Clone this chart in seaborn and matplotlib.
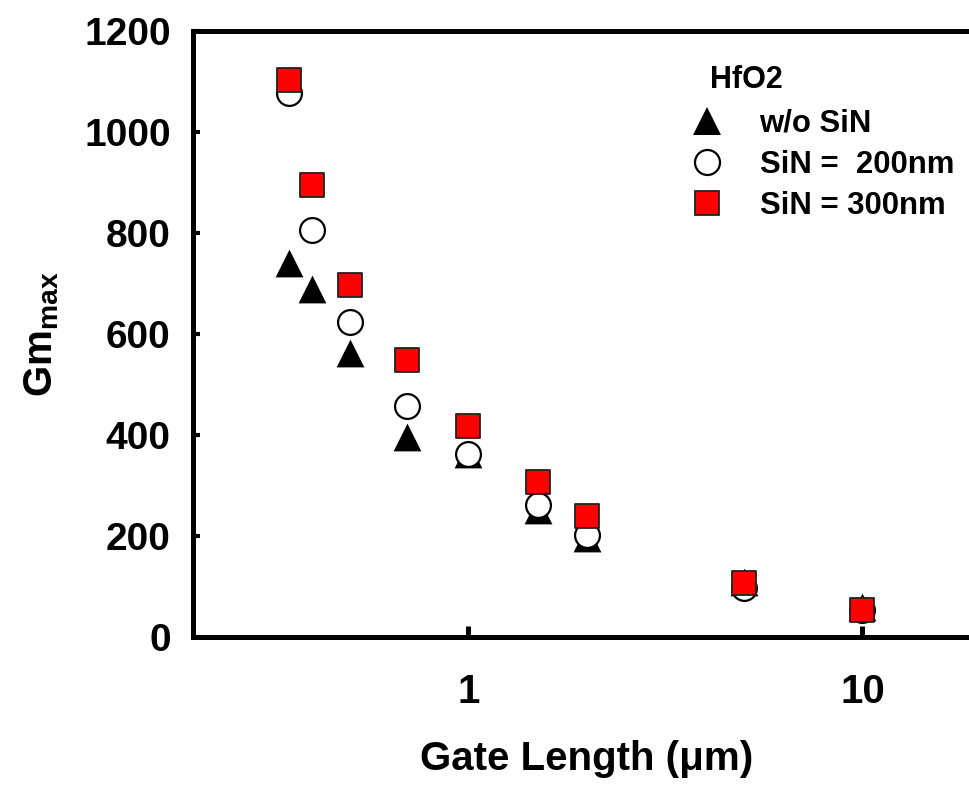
import matplotlib
matplotlib.use("Agg")
import matplotlib.pyplot as plt
import seaborn as sns
import pandas as pd
from matplotlib.lines import Line2D

# ---- data ----
gate_length = [0.35, 0.4, 0.5, 0.7, 1, 1.5, 2, 5, 10]
gm_wo_sin = [740, 689, 562, 397, 362, 251, 197, 108, 59]
gm_sin200 = [1078, 806, 624, 457, 363, 261, 202, 98, 54]
gm_sin300 = [1103, 895, 697, 548, 417, 306, 240, 106, 53]
series_labels = ["w/o SiN", "SiN =  200nm", "SiN = 300nm"]
legend_title = "HfO2"
y_ticks = [0, 200, 400, 600, 800, 1000, 1200]
x_ticks = [1, 10]
x_tick_labels = ["1", "10"]

sns.set_theme(style="white")
plt.rcParams["font.family"] = ["Liberation Sans", "DejaVu Sans"]
plt.rcParams["font.weight"] = "bold"
plt.rcParams["text.color"] = "black"
plt.rcParams["axes.labelcolor"] = "black"
plt.rcParams["xtick.color"] = "black"
plt.rcParams["ytick.color"] = "black"
plt.rcParams["mathtext.fontset"] = "custom"
plt.rcParams["mathtext.rm"] = "Liberation Sans"
plt.rcParams["mathtext.bf"] = "Liberation Sans:bold"

fig = plt.figure(figsize=(9.69, 7.85), dpi=100)
ax = fig.add_axes([193 / 969, 1 - 637 / 785, (981 - 193) / 969, (637 - 31) / 785])

df_tri = pd.DataFrame({"L": gate_length, "Gm": gm_wo_sin})
df_cir = pd.DataFrame({"L": gate_length, "Gm": gm_sin200})
df_sq = pd.DataFrame({"L": gate_length, "Gm": gm_sin300})

sns.scatterplot(data=df_tri, x="L", y="Gm", marker="^", s=400, color="black",
                edgecolor="black", linewidth=0, ax=ax, zorder=3)
sns.scatterplot(data=df_cir, x="L", y="Gm", marker="o", s=320, color="white",
                edgecolor="black", linewidth=1.6, ax=ax, zorder=4)
sns.scatterplot(data=df_sq, x="L", y="Gm", marker="s", s=300, color="#ff0000",
                edgecolor="#222222", linewidth=1.3, ax=ax, zorder=5)

ax.set_xscale("log")
ax.set_xlim(0.2, 20)
ax.set_ylim(0, 1200)
ax.set_xticks(x_ticks)
ax.set_xticklabels(x_tick_labels)
ax.set_xticks([], minor=True)
ax.set_yticks(y_ticks)
ax.set_yticklabels([str(v) for v in y_ticks])

for side in ["left", "top", "bottom", "right"]:
    ax.spines[side].set_linewidth(3.6)
    ax.spines[side].set_color("black")

ax.tick_params(axis="x", which="major", direction="in", length=8, width=3.6,
               pad=26, labelsize=29, colors="black")
ax.tick_params(axis="y", which="major", direction="in", length=5, width=3.0,
               pad=16, labelsize=28, colors="black", left=True)
ax.tick_params(axis="x", bottom=True, top=False)
for lab in ax.get_xticklabels() + ax.get_yticklabels():
    lab.set_fontweight("bold")

ax.set_xlabel("Gate Length (μm)", fontsize=29, fontweight="bold", labelpad=21)
ax.set_ylabel(r"$\mathbf{Gm}_{\mathbf{max}}$", fontsize=29, labelpad=17)

handles = [
    Line2D([], [], linestyle="none", marker="^", markersize=20, color="black",
           markeredgewidth=0),
    Line2D([], [], linestyle="none", marker="o", markersize=18, markerfacecolor="white",
           markeredgecolor="black", markeredgewidth=1.6),
    Line2D([], [], linestyle="none", marker="s", markersize=17, markerfacecolor="#ff0000",
           markeredgecolor="#222222", markeredgewidth=1.3),
]
leg = ax.legend(handles, series_labels, frameon=False,
                loc="upper left", bbox_to_anchor=(660 / 969, 1 - 87 / 785),
                bbox_transform=fig.transFigure, prop={"size": 22.4, "weight": "bold"},
                labelspacing=0.36, handletextpad=0.9, handlelength=1.6,
                borderpad=0.2)
fig.text(710 / 969, 1 - 80 / 785, legend_title, fontsize=22, fontweight="bold",
         ha="left", va="center", color="black")

fig.savefig("out.png", dpi=100)
